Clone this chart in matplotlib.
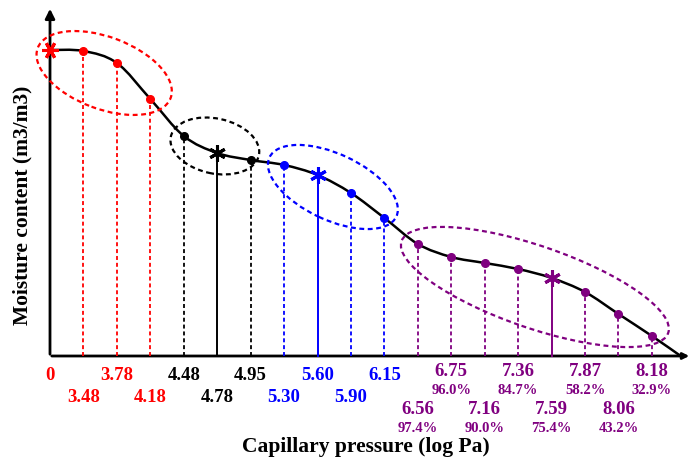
import numpy as np
import matplotlib
matplotlib.use("Agg")
import matplotlib.pyplot as plt
from matplotlib.path import Path
from matplotlib.patches import PathPatch, Ellipse
from matplotlib.transforms import IdentityTransform

# capillary pressure steps (log Pa) and the moisture content read at each step
log_pa = ["0", "3.48", "3.78", "4.18", "4.48", "4.78", "4.95", "5.30", "5.60", "5.90",
          "6.15", "6.56", "6.75", "7.16", "7.36", "7.59", "7.87", "8.06", "8.18"]
moisture = [0.306, 0.305, 0.293, 0.257, 0.220, 0.203, 0.196, 0.191, 0.181, 0.163,
            0.138, 0.112, 0.099, 0.093, 0.087, 0.078, 0.064, 0.042, 0.020]
# relative humidity for the high-pressure steps (index 11 onwards)
rel_hum = ["97.4%", "96.0%", "90.0%", "84.7%", "75.4%", "58.2%", "43.2%", "32.9%"]
# where the curve runs out onto the pressure axis
curve_end = (18.86, 0.0)

# groups: (first, last index, colour, index of the representative point)
groups = [(0, 3, "#ff0000", 0),
          (4, 6, "#000000", 5),
          (7, 10, "#0000ff", 8),
          (11, 18, "#800080", 15)]

SERIF = ["Liberation Serif", "DejaVu Serif"]

fig = plt.figure(figsize=(6.93, 4.72), dpi=100)
ax = fig.add_axes([0, 0, 1, 1])
step = 33.44   # pixels per pressure step
ax.set_xlim(-50 / step, (693 - 50) / step)
ax.set_ylim(-0.116, 0.356)
ax.axis("off")


def py(pix):
    # vertical position counted in pixels from the top edge
    return (356 - pix) / 1000.0


def colour_of(i):
    for a, b, c, s in groups:
        if a <= i <= b:
            return c
    return "k"


x = np.arange(len(moisture))

# axes drawn as arrows
ax.annotate("", xy=(0, 0.350), xytext=(0, -0.001), annotation_clip=False,
            arrowprops=dict(arrowstyle="-|>", color="k", lw=2, mutation_scale=14))
ax.annotate("", xy=(19.2, 0), xytext=(-0.03, 0), annotation_clip=False,
            arrowprops=dict(arrowstyle="-|>", color="k", lw=2, mutation_scale=9))

# smooth curve (catmull-rom turned into cubic bezier pieces)
pts = np.column_stack([x, moisture])
pts = np.vstack([pts, curve_end])
verts = [tuple(pts[0])]
codes = [Path.MOVETO]
n = len(pts)
for i in range(n - 1):
    p0 = pts[max(i - 1, 0)]
    p1 = pts[i]
    p2 = pts[i + 1]
    p3 = pts[min(i + 2, n - 1)]
    c1 = p1 + (p2 - p0) / 6.0
    c2 = p2 - (p3 - p1) / 6.0
    verts += [tuple(c1), tuple(c2), tuple(p2)]
    codes += [Path.CURVE4] * 3
ax.add_patch(PathPatch(Path(verts, codes), fc="none", ec="k", lw=1.8, zorder=4))

# drop lines and markers
for a, b, c, s in groups:
    for i in range(a, b + 1):
        if i > 0:
            ls = "-" if i == s else (0, (2.2, 1.6))
            ax.plot([x[i], x[i]], [0, moisture[i]], color=c, lw=1.4 if i == s else 1.3,
                    ls=ls, zorder=3)
        if i == s:
            ax.plot(x[i], moisture[i], marker=(6, 2, 90 if i == 0 else 0), ms=12,
                    mew=2.2, color=c, zorder=6)
        else:
            ax.plot(x[i], moisture[i], "o", ms=5.5, color=c, zorder=6)

# group ellipses (center in data units, size in pixels)
ellipses = [((1.62, py(73)), 142, 72, -20.6, "#ff0000"),
            ((4.93, py(146)), 90, 55, -12, "#000000"),
            ((8.46, py(187)), 140, 66, -25, "#0000ff"),
            ((14.5, py(287)), 282, 82, -19, "#800080")]
for (cx, cy), w, h, ang, c in ellipses:
    cd = ax.transData.transform((cx, cy))
    ax.add_patch(Ellipse(cd, w, h, angle=ang, transform=IdentityTransform(),
                         fill=False, ec=c, lw=1.6, ls=(0, (2.2, 1.6)), zorder=5))

# pressure labels, staggered on two rows
for i, lab in enumerate(log_pa):
    c = colour_of(i)
    if i < 11:
        yy = py(375) if i % 2 == 0 else py(397)
        ax.text(x[i], yy, lab, color=c, ha="center", va="center", fontsize=13.5,
                fontweight="bold", family=SERIF)
    else:
        yy = py(372) if i % 2 == 0 else py(410)
        ax.text(x[i], yy, lab, color=c, ha="center", va="center", fontsize=13.5,
                fontweight="bold", family=SERIF)
        ax.text(x[i], yy - 0.018, rel_hum[i - 11], color=c, ha="center", va="center",
                fontsize=10.5, fontweight="bold", family=SERIF)

ax.text((366 - 50) / step, py(447), "Capillary pressure (log Pa)", ha="center",
        va="center", fontsize=15.5, fontweight="bold", family=SERIF)
ax.text(-28 / step, py(205), "Moisture content (m3/m3)", ha="center", va="center",
        rotation=90, fontsize=15.5, fontweight="bold", family=SERIF)

fig.savefig("out.png", dpi=100)
